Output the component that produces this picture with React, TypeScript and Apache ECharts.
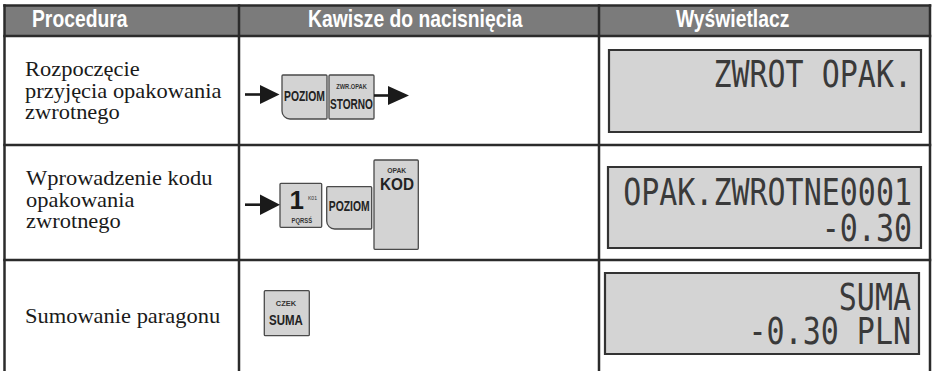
import React, { useEffect, useRef } from 'react';
import * as echarts from 'echarts';

const headers = ['Procedura', 'Kawisze do nacisnięcia', 'Wyświetlacz'];
const procRow1 = ['Rozpoczęcie', 'przyjęcia opakowania', 'zwrotnego'];
const procRow2 = ['Wprowadzenie kodu', 'opakowania', 'zwrotnego'];
const procRow3 = ['Sumowanie paragonu'];
const displayRow1 = ['ZWROT OPAK.'];
const displayRow2 = ['OPAK.ZWROTNE0001', '-0.30'];
const displayRow3 = ['SUMA', '-0.30 PLN'];
const keysRow1 = ['POZIOM', 'ZWR.OPAK', 'STORNO'];
const keysRow2 = ['1', 'K01', 'PQRSŚ', 'POZIOM', 'OPAK', 'KOD'];
const keysRow3 = ['CZEK', 'SUMA'];

const SANS = '"Liberation Sans", Arial, sans-serif';
const SERIF = '"Liberation Serif", "Times New Roman", serif';
const MONO = '"DejaVu Sans Mono", monospace';

const LINE = '#2b2b2b';
const KEY_FILL = '#d3d3d3';
const KEY_STROKE = '#4a4a4a';
const LCD_FILL = '#d4d4d4';

type El = any;

function txt(
  x: number,
  y: number,
  text: string,
  o: { size: number; family?: string; weight?: string; fill?: string; align?: string; sx?: number; sy?: number; lh?: number }
): El {
  return {
    type: 'text',
    x,
    y,
    scaleX: o.sx ?? 1,
    scaleY: o.sy ?? 1,
    silent: true,
    z: 10,
    style: {
      text,
      x: 0,
      y: 0,
      fill: o.fill ?? '#1a1a1a',
      fontSize: o.size,
      fontFamily: o.family ?? SANS,
      fontWeight: o.weight ?? 'normal',
      align: o.align ?? 'left',
      verticalAlign: 'middle',
      lineHeight: o.lh,
    },
  };
}

function line(x1: number, y1: number, x2: number, y2: number, w = 2.5, c = LINE): El {
  return { type: 'line', silent: true, z: 5, shape: { x1, y1, x2, y2 }, style: { stroke: c, lineWidth: w } };
}

function rect(x: number, y: number, w: number, h: number, fill: string, stroke: string, lw: number, r: any = 0, z = 3): El {
  return { type: 'rect', silent: true, z, shape: { x, y, width: w, height: h, r }, style: { fill, stroke, lineWidth: lw } };
}

function arrow(x1: number, x2: number, y: number, headLen: number, headHalf: number): El[] {
  return [
    line(x1, y, x2 - headLen + 2, y, 2.6, '#1a1a1a'),
    {
      type: 'polygon',
      silent: true,
      z: 6,
      shape: { points: [[x2 - headLen, y - headHalf], [x2 - headLen, y + headHalf], [x2, y]] },
      style: { fill: '#1a1a1a' },
    },
  ];
}

function buildElements(): El[] {
  const els: El[] = [];
  // header band
  els.push(rect(4.5, 5.5, 925.5, 30.5, '#7b7b7b', 'none', 0, 0, 1));
  // table lines
  els.push(line(3.25, 5.5, 931.25, 5.5));
  els.push(line(3.25, 36, 931.25, 36));
  els.push(line(3.25, 145, 931.25, 145));
  els.push(line(3.25, 260, 931.25, 260));
  [4.5, 239, 599, 930].forEach((x) => els.push(line(x, 4.25, x, 371)));

  // header texts
  const hx = [32, 308, 676];
  headers.forEach((h, i) => els.push(txt(hx[i], 19.3, h, { size: 23, weight: 'bold', fill: '#ffffff', sx: 0.84 })));

  // procedure texts (one block per row, tight line height as in the reference)
  const serif = { size: 21.7, family: SERIF, fill: '#1a1a1a', lh: 21.5, sx: 1.035 };
  els.push(txt(25, 90.6, procRow1.join('\n'), serif));
  els.push(txt(26, 199.6, procRow2.join('\n'), serif));
  els.push(txt(25, 315.9, procRow3.join('\n'), serif));

  // LCD displays
  els.push(rect(609, 50, 312, 82, LCD_FILL, '#333333', 2.2));
  els.push(rect(608, 167, 313, 81, LCD_FILL, '#333333', 2.2));
  els.push(rect(605, 273, 314, 81, LCD_FILL, '#333333', 2.2));
  const lcd = { size: 30, family: MONO, fill: '#3a3a3a', align: 'right', sy: 1.26 };
  els.push(txt(912, 74, displayRow1.join('\n'), lcd));
  els.push(txt(912, 209.5, displayRow2.join('\n'), { ...lcd, lh: 28.5 }));
  els.push(txt(911, 313.5, displayRow3.join('\n'), { ...lcd, lh: 27 }));

  // row 1 keys
  els.push(...arrow(245, 279.5, 94.5, 19.5, 9.5));
  els.push(rect(282, 75, 45, 44, KEY_FILL, KEY_STROKE, 1.3, [1, 1, 1, 8]));
  els.push(txt(304.5, 96.4, keysRow1[0], { size: 14, weight: 'bold', align: 'center', sx: 0.74, fill: '#222' }));
  els.push(rect(329, 75, 45, 44, KEY_FILL, KEY_STROKE, 1.3, 1));
  els.push(txt(351.5, 86.5, keysRow1[1], { size: 7.5, weight: 'bold', align: 'center', sx: 0.76, fill: '#333' }));
  els.push(txt(351.5, 104.3, keysRow1[2], { size: 14, weight: 'bold', align: 'center', sx: 0.72, fill: '#222' }));
  els.push(...arrow(374, 409, 95.5, 21, 9.5));

  // row 2 keys
  els.push(...arrow(245, 280, 204.7, 20, 10.3));
  els.push(rect(280, 183.3, 41.7, 44, KEY_FILL, KEY_STROKE, 1.3, 1));
  els.push(txt(296.7, 199.5, keysRow2[0], { size: 26, weight: 'bold', align: 'center', fill: '#1a1a1a' }));
  els.push(txt(312.5, 197.5, keysRow2[1], { size: 6, align: 'center', fill: '#333', sx: 0.85 }));
  els.push(txt(301.8, 220.6, keysRow2[2], { size: 7.5, weight: 'bold', align: 'center', sx: 0.78, fill: '#333' }));
  els.push(rect(326.7, 186.7, 45, 42.3, KEY_FILL, KEY_STROKE, 1.3, [1, 1, 1, 8]));
  els.push(txt(349.2, 206, keysRow2[3], { size: 14, weight: 'bold', align: 'center', sx: 0.74, fill: '#222' }));
  els.push(rect(374, 160, 44.3, 89.3, KEY_FILL, KEY_STROKE, 1.3, 1));
  els.push(txt(396.7, 170.5, keysRow2[4], { size: 8, weight: 'bold', align: 'center', sx: 0.85, fill: '#333' }));
  els.push(txt(397, 184, keysRow2[5], { size: 17, weight: 'bold', align: 'center', sx: 0.9, fill: '#222' }));

  // row 3 keys
  els.push(rect(264.3, 290.7, 45, 45, KEY_FILL, KEY_STROKE, 1.3, 1));
  els.push(txt(286, 303.8, keysRow3[0], { size: 7.5, weight: 'bold', align: 'center', fill: '#333' }));
  els.push(txt(286, 320, keysRow3[1], { size: 14, weight: 'bold', align: 'center', sx: 0.82, fill: '#222' }));

  return els;
}

export default function App() {
  const ref = useRef<HTMLDivElement>(null);
  useEffect(() => {
    document.body.style.margin = '0';
    const chart = echarts.init(ref.current!, undefined, { renderer: 'svg' });
    chart.setOption({
      animation: false,
      backgroundColor: '#ffffff',
      graphic: { elements: buildElements() },
    });
    return () => chart.dispose();
  }, []);
  return <div ref={ref} style={{ position: 'absolute', left: 0, top: 0, width: 933, height: 371 }} />;
}
